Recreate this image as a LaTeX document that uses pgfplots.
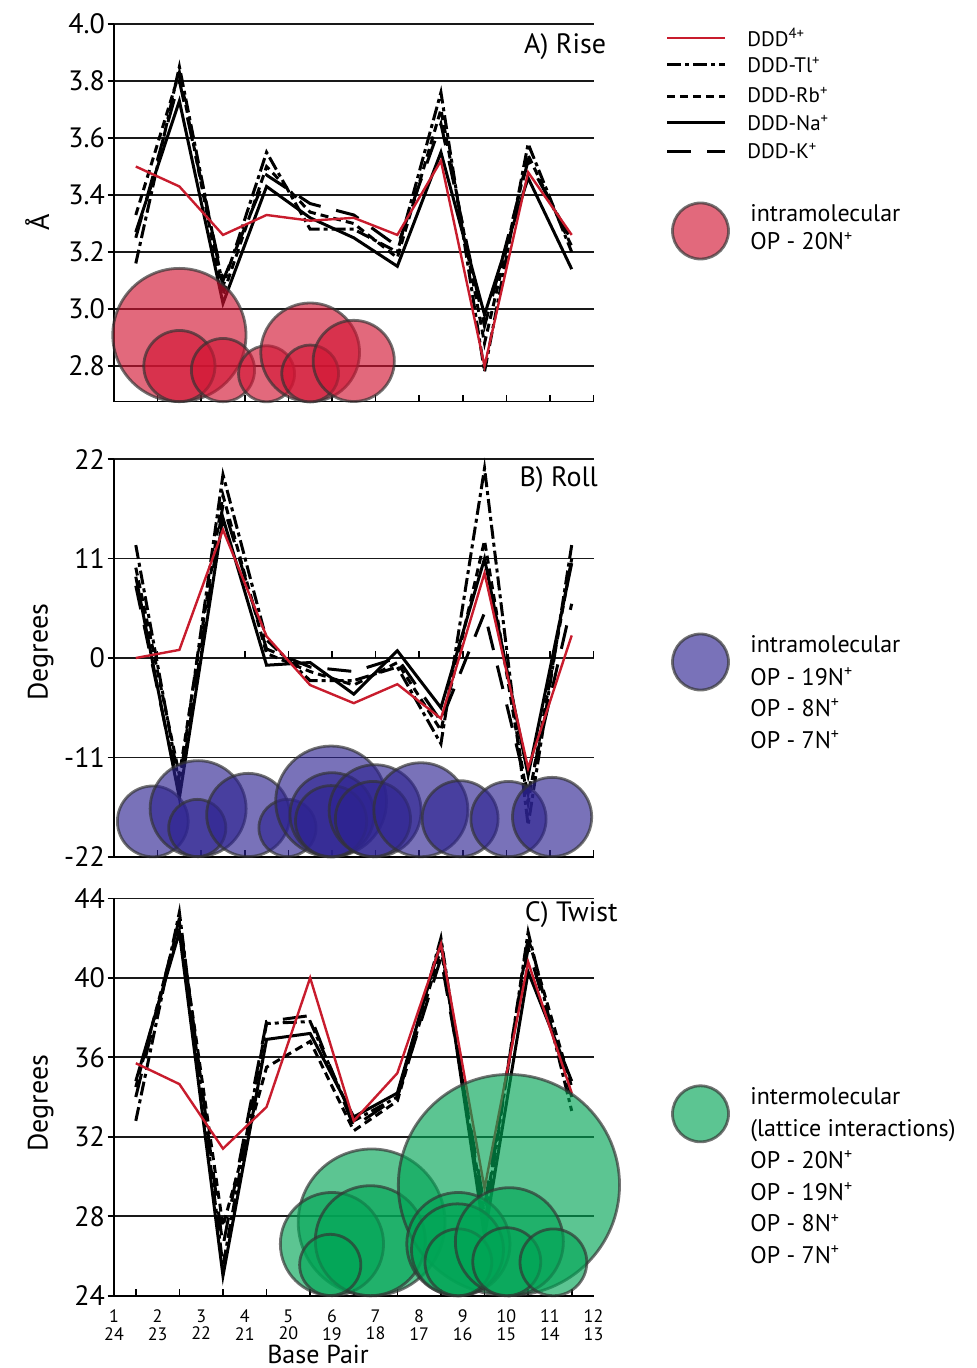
\documentclass[border=0pt]{standalone}
\usepackage{fontspec}
\setmainfont{PT Sans}
\usepackage{pgfplots}
\usepackage{pgfplotstable}
\pgfplotsset{compat=1.18}

\definecolor{dddred}{RGB}{200,28,45}
\definecolor{bubred}{RGB}{210,20,50}
\definecolor{bubblue}{RGB}{45,35,145}
\definecolor{bubgreen}{RGB}{0,165,85}

\pgfplotstableread{
x    red   tl    rb    na    k
1.5  3.50  3.16  3.33  3.27  3.25
2.5  3.43  3.85  3.83  3.73  3.80
3.5  3.26  3.08  3.05  3.02  3.10
4.5  3.33  3.55  3.50  3.43  3.47
5.5  3.31  3.28  3.34  3.32  3.37
6.5  3.32  3.28  3.30  3.25  3.33
7.5  3.26  3.20  3.18  3.15  3.22
8.5  3.52  3.76  3.70  3.55  3.65
9.5  2.80  2.78  2.88  2.98  2.94
10.5 3.48  3.58  3.54  3.46  3.52
11.5 3.26  3.20  3.22  3.14  3.24
}\risedata

\pgfplotstableread{
x    red    tl     rb     na     k
1.5  0.0    12.5   10.0   9.0    8.0
2.5  0.9   -14.0  -13.0  -15.5  -15.0
3.5  14.2   20.3   18.0   15.5   17.0
4.5  2.4    2.0    0.5   -0.8    1.0
5.5 -3.0   -2.5   -1.5   -0.5   -1.0
6.5 -5.0   -2.5   -3.0   -4.0   -1.5
7.5 -2.9   -1.0   -0.5    0.8    0.0
8.5 -6.7   -9.5   -8.0   -5.5   -7.0
9.5  9.4    21.0   13.0   11.0   5.0
10.5 -12.2 -18.5  -16.0  -13.0  -15.0
11.5 2.5    12.5   11.0   10.5   6.0
}\rolldata

\pgfplotstableread{
x    red    tl    rb    na    k
1.5  35.7   32.8  34.5  34.8  34.0
2.5  34.65  43.3  42.8  42.3  43.0
3.5  31.4   25.5  27.5  25.0  26.5
4.5  33.5   37.7  35.5  36.9  37.8
5.5  40.0   37.8  36.8  37.2  38.1
6.5  32.8   32.8  32.3  33.0  32.5
7.5  35.2   34.0  33.8  34.2  34.0
8.5  41.7   42.0  41.5  41.8  41.0
9.5  29.4   27.5  28.0  27.0  28.5
10.5 40.8   42.3  42.0  40.3  41.5
11.5 34.2   33.3  34.5  34.8  34.0
}\twistdata

% bubbles: x, y (centre), r (radius, pt)
\pgfplotstableread{
x    y      r
2.5  2.909  33.3
2.5  2.800  17.8
3.5  2.786  15.8
4.5  2.773  14.0
5.5  2.848  24.7
5.5  2.774  14.2
6.5  2.818  20.3
}\risebub

\pgfplotstableread{
x     y       r
1.89  -18.09  17.7
2.93  -16.68  24.0
2.91  -18.82  14.3
4.08  -17.38  20.8
4.98  -18.82  14.3
5.98  -15.88  27.7
6.00  -17.35  21.0
5.98  -18.07  17.8
6.99  -16.91  23.0
6.94  -17.83  18.8
8.04  -16.80  23.5
8.94  -17.79  19.0
10.05 -17.83  18.8
11.05 -17.60  19.8
}\rollbub

\pgfplotstableread{
x     y      r
6.91  27.69  36.7
6.00  26.60  25.8
6.88  26.77  27.5
5.96  25.55  15.3
10.06 29.57  55.3
8.90  26.60  25.8
8.88  26.31  23.0
8.90  25.68  16.7
10.07 26.72  27.0
10.01 25.71  17.0
11.08 25.68  16.7
}\twistbub

\tikzset{
  tl/.style={black, line width=1.5pt, dash pattern=on 7pt off 2pt on 2pt off 2pt},
  rb/.style={black, line width=1.5pt, dash pattern=on 4pt off 2.5pt},
  na/.style={black, line width=1.5pt},
  kk/.style={black, line width=1.5pt, dash pattern=on 12pt off 8pt},
  dd/.style={dddred, line width=1.2pt},
  bubstyle/.style={fill opacity=0.64, draw=black!80, draw opacity=0.68, line width=1.4pt},
}

\pgfplotsset{
  panel/.style={
    scale only axis, width=239.75pt, xmin=1, xmax=12,
    axis x line*=bottom, axis y line*=left,
    ymajorgrids, grid style={black!90, line width=0.8pt},
    axis line style={black, line width=0.8pt},
    tick style={black, line width=0.8pt},
    xtick align=inside, ytick align=outside,
    major tick length=3.2pt, minor tick length=3.5pt,
    yticklabel style={font=\fontsize{14}{16}\selectfont, inner sep=1.2pt},
    ylabel style={font=\fontsize{14}{16}\selectfont},
    clip=false,
  },
  bub/.style={scatter, only marks, mark=*,
    scatter/use mapped color={draw=black!80, fill=#1},
    mark options={bubstyle},
    visualization depends on={\thisrow{r} \as \rad},
    scatter/@pre marker code/.append style={/tikz/mark size=\rad}},
}

\begin{document}
\begin{tikzpicture}
\path[use as bounding box] (0pt,0pt) rectangle (488.5pt,-684pt);

% ---------- A) Rise ----------
\begin{axis}[panel, at={(57pt,-12pt)}, anchor=north west, height=188.85pt,
  ymin=2.675, ymax=4.0,
  ytick={2.8,3.0,3.2,3.4,3.6,3.8,4.0},
  yticklabels={2.8,3.0,3.2,3.4,3.6,3.8,4.0},
  xtick={2,...,12}, xticklabels={},
  ylabel={Å}, ylabel style={at={(axis description cs:-0.16,0.476)}, rotate=0, anchor=center},
]
\addplot[bub=bubred] table[x=x,y=y] {\risebub};
\addplot[tl] table[x=x,y=tl] {\risedata};
\addplot[rb] table[x=x,y=rb] {\risedata};
\addplot[na] table[x=x,y=na] {\risedata};
\addplot[kk] table[x=x,y=k] {\risedata};
\addplot[dd] table[x=x,y=red] {\risedata};
\node[anchor=east, font=\fontsize{14}{16}\selectfont, inner sep=0pt] at (axis description cs:1.027,0.939) {A) Rise};
\end{axis}

% ---------- B) Roll ----------
\begin{axis}[panel, at={(57pt,-229.65pt)}, anchor=north west, height=198.7pt,
  ymin=-22, ymax=22,
  ytick={-22,-11,0,11,22},
  yticklabels={-22,-11,0,11,22},
  xtick={2,...,12}, xticklabels={},
  ylabel={Degrees}, ylabel style={at={(axis description cs:-0.153,0.515)}, anchor=center},
]
\addplot[bub=bubblue] table[x=x,y=y] {\rollbub};
\pgfplotsinvokeforeach{2,...,12}{\draw[black, line width=0.8pt] (axis cs:#1,0) -- ++(0pt,3.5pt);}
\addplot[tl] table[x=x,y=tl] {\rolldata};
\addplot[rb] table[x=x,y=rb] {\rolldata};
\addplot[na] table[x=x,y=na] {\rolldata};
\addplot[kk] table[x=x,y=k] {\rolldata};
\addplot[dd] table[x=x,y=red] {\rolldata};
\node[anchor=east, font=\fontsize{14}{16}\selectfont, inner sep=0pt] at (axis description cs:1.010,0.948) {B) Roll};
\end{axis}

% ---------- C) Twist ----------
\begin{axis}[panel, at={(57pt,-449.15pt)}, anchor=north west, height=198.7pt,
  ymin=24, ymax=44,
  ytick={24,28,32,36,40,44},
  yticklabels={24,28,32,36,40,44},
  xtick={1.5,2.5,...,11.5}, xticklabels={},
  extra x ticks={1,...,12},
  extra x tick labels={{1\\24},{2\\23},{3\\22},{4\\21},{5\\20},{6\\19},{7\\18},{8\\17},{9\\16},{10\\15},{11\\14},{12\\13}},
  extra x tick style={major tick length=0pt, xticklabel style={align=center, font=\fontsize{9}{8.6}\selectfont, inner sep=0pt, yshift=-7pt}},
  ylabel={Degrees}, ylabel style={at={(axis description cs:-0.153,0.485)}, anchor=center},
]
\addplot[bub=bubgreen] table[x=x,y=y] {\twistbub};
\addplot[tl] table[x=x,y=tl] {\twistdata};
\addplot[rb] table[x=x,y=rb] {\twistdata};
\addplot[na] table[x=x,y=na] {\twistdata};
\addplot[kk] table[x=x,y=k] {\twistdata};
\addplot[dd] table[x=x,y=red] {\twistdata};
\node[anchor=east, font=\fontsize{14}{16}\selectfont, inner sep=0pt] at (axis description cs:1.051,0.958) {C) Twist};
\end{axis}

\node[anchor=base, font=\fontsize{13}{15}\selectfont, inner sep=0pt] at (159pt,-681.5pt) {Base Pair};

% ---------- line legend ----------
\begin{scope}[font=\fontsize{10.5}{12}\selectfont]
\draw[dd] (333.5pt,-19.15pt) -- (362.5pt,-19.15pt);
\draw[tl] (333.5pt,-32.5pt) -- (362.5pt,-32.5pt);
\draw[rb] (333.5pt,-48.35pt) -- (362.5pt,-48.35pt);
\draw[na] (333.5pt,-61.35pt) -- (362.5pt,-61.35pt);
\draw[kk] (333.5pt,-75.85pt) -- (362.5pt,-75.85pt);
\node[anchor=base west, inner sep=0pt] at (373.5pt,-23.25pt) {DDD\textsuperscript{4+}};
\node[anchor=base west, inner sep=0pt] at (373.5pt,-36.5pt) {DDD-Tl\textsuperscript{+}};
\node[anchor=base west, inner sep=0pt] at (373.5pt,-51.5pt) {DDD-Rb\textsuperscript{+}};
\node[anchor=base west, inner sep=0pt] at (373.5pt,-65.5pt) {DDD-Na\textsuperscript{+}};
\node[anchor=base west, inner sep=0pt] at (373.5pt,-79.5pt) {DDD-K\textsuperscript{+}};
\end{scope}

% ---------- bubble legends ----------
\begin{scope}[font=\fontsize{12}{14}\selectfont]
\filldraw[bubstyle, fill=bubred] (350.25pt,-115.5pt) circle (14pt);
\node[anchor=base west, inner sep=0pt] at (375pt,-111pt) {intramolecular};
\node[anchor=base west, inner sep=0pt] at (375pt,-125pt) {OP - 20N\textsuperscript{+}};

\filldraw[bubstyle, fill=bubblue] (350.25pt,-331pt) circle (14pt);
\node[anchor=base west, inner sep=0pt] at (375pt,-326.35pt) {intramolecular};
\node[anchor=base west, inner sep=0pt] at (375pt,-342.5pt) {OP - 19N\textsuperscript{+}};
\node[anchor=base west, inner sep=0pt] at (375pt,-358.35pt) {OP - 8N\textsuperscript{+}};
\node[anchor=base west, inner sep=0pt] at (375pt,-374.15pt) {OP - 7N\textsuperscript{+}};

\filldraw[bubstyle, fill=bubgreen] (350.25pt,-556.9pt) circle (14pt);
\node[anchor=base west, inner sep=0pt] at (375pt,-552.15pt) {intermolecular};
\node[anchor=base west, inner sep=0pt] at (375pt,-568pt) {(lattice interactions)};
\node[anchor=base west, inner sep=0pt] at (375pt,-584.15pt) {OP - 20N\textsuperscript{+}};
\node[anchor=base west, inner sep=0pt] at (375pt,-600pt) {OP - 19N\textsuperscript{+}};
\node[anchor=base west, inner sep=0pt] at (375pt,-615.85pt) {OP - 8N\textsuperscript{+}};
\node[anchor=base west, inner sep=0pt] at (375pt,-631.65pt) {OP - 7N\textsuperscript{+}};
\end{scope}
\end{tikzpicture}
\end{document}
